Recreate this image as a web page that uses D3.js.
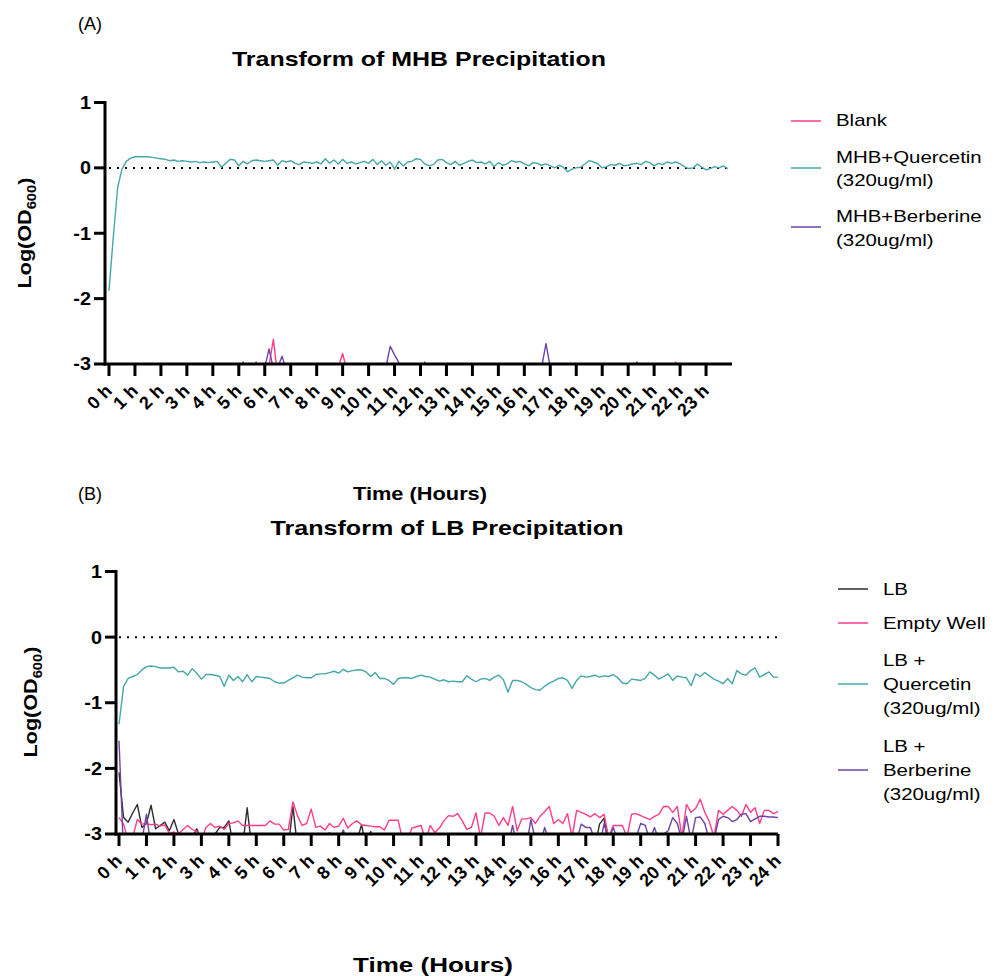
<!DOCTYPE html>
<html>
<head>
<meta charset="utf-8">
<script src="https://cdn.jsdelivr.net/npm/d3@7"></script>
<style>
  body { margin: 0; background: #fff; }
  svg text { font-family: "Liberation Sans", Arial, sans-serif; fill: #000; }
</style>
</head>
<body>
<svg id="chart" width="995" height="976"></svg>
<script>
// readings every 10 min, log10(OD600); values under -3 fall below the axis
const stepHours = 10 / 60;

const mhbTicks = ["0 h","1 h","2 h","3 h","4 h","5 h","6 h","7 h","8 h","9 h","10 h","11 h",
  "12 h","13 h","14 h","15 h","16 h","17 h","18 h","19 h","20 h","21 h","22 h","23 h"];
const lbTicks = ["0 h","1 h","2 h","3 h","4 h","5 h","6 h","7 h","8 h","9 h","10 h","11 h",
  "12 h","13 h","14 h","15 h","16 h","17 h","18 h","19 h","20 h","21 h","22 h","23 h","24 h"];
const yTicks = [1, 0, -1, -2, -3];

// (A) MHB
const mhbBlank = [
  -3.2,-3.2,-3.2,-3.2,-3.2,-3.2, -3.2,-3.2,-3.2,-3.2,-3.2,-3.2,
  -3.2,-3.2,-3.2,-3.2,-3.2,-3.2, -3.2,-3.2,-3.2,-3.2,-3.2,-3.2,
  -3.2,-3.2,-3.2,-3.2,-3.2,-3.2, -3.2,-3.2,-3.2,-3.2,-3.2,-3.2,
  -3.2,-3.02,-2.62,-3.2,-3.2,-3.2, -3.2,-3.2,-3.2,-3.2,-3.2,-3.2,
  -3.2,-3.2,-3.2,-3.2,-3.2,-3.05, -2.84,-3.1,-3.2,-3.2,-3.2,-3.2,
  -3.2,-3.2,-3.2,-3.2,-3.2,-3.2, -3.2,-3.2,-3.2,-3.2,-3.2,-3.2,
  -3.2,-3.2,-3.2,-3.2,-3.2,-3.2, -3.2,-3.2,-3.2,-3.2,-3.2,-3.2,
  -3.2,-3.2,-3.2,-3.2,-3.2,-3.2, -3.2,-3.2,-3.2,-3.2,-3.2,-3.2,
  -3.2,-3.2,-3.2,-3.2,-3.2,-3.2, -3.2,-3.2,-3.2,-3.2,-3.2,-3.2,
  -3.2,-3.2,-3.2,-3.2,-3.2,-3.2, -3.2,-3.2,-3.2,-3.2,-3.2,-3.2,
  -3.2,-3.2,-3.2,-3.2,-3.2,-3.2, -3.2,-3.2,-3.2,-3.2,-3.1,-2.97,
  -3.1,-3.2,-3.2,-3.2,-3.2,-3.2, -3.2,-3.2,-3.2,-3.2,-3.2,-3.2
];
const mhbQuercetin = [
  -1.88,-1.05,-0.30,-0.02,0.10,0.15, 0.17,0.17,0.17,0.17,0.16,0.15,
  0.14,0.13,0.11,0.12,0.10,0.11, 0.10,0.09,0.10,0.08,0.09,0.08,
  0.09,0.10,0.01,0.07,0.13,0.12, 0.03,0.10,0.06,0.11,0.12,0.11,
  0.10,0.11,0.12,0.04,0.11,0.09, 0.11,0.07,0.05,0.09,0.08,0.07,
  0.09,0.06,0.14,0.07,0.12,0.06, 0.13,0.07,0.09,0.06,0.08,0.10,
  0.07,0.13,0.05,0.11,0.04,0.09, -0.02,0.10,0.03,0.09,0.10,0.14,
  0.13,0.06,0.03,0.05,0.12,0.13, 0.08,0.05,0.10,0.04,0.07,0.10,
  0.12,0.08,0.09,0.06,0.10,0.02, 0.08,0.04,0.06,0.11,0.09,0.10,
  0.06,0.03,0.08,0.07,0.04,0.06, 0.03,0.00,0.04,0.01,-0.06,-0.02,
  0.00,0.01,0.06,0.11,0.09,0.06, 0.00,0.02,0.05,0.04,0.07,0.03,
  0.04,0.06,0.07,0.05,0.10,0.08, 0.03,0.07,0.05,0.09,0.07,0.09,
  0.06,0.02,-0.01,0.00,0.06,0.01, -0.03,-0.01,0.02,0.00,0.03,-0.01
];
const mhbBerberine = [
  -3.2,-3.2,-3.2,-3.2,-3.2,-3.2, -3.2,-3.2,-3.2,-3.2,-3.2,-3.2,
  -3.2,-3.2,-3.2,-3.2,-3.2,-3.2, -3.2,-3.2,-3.2,-3.2,-3.2,-3.2,
  -3.2,-3.2,-3.2,-3.2,-3.2,-3.2, -3.2,-2.97,-3.2,-3.2,-2.97,-3.2,
  -3.05,-2.77,-3.08,-3.05,-2.88,-3.1, -3.2,-3.2,-3.2,-3.2,-3.2,-3.2,
  -3.2,-3.2,-3.2,-3.2,-3.2,-3.2, -3.2,-3.2,-3.2,-3.2,-3.2,-3.2,
  -3.2,-3.2,-3.2,-3.2,-3.05,-2.73, -2.86,-2.98,-3.2,-3.2,-3.2,-3.2,
  -3.2,-2.97,-3.2,-3.2,-3.2,-3.2, -3.2,-3.2,-3.2,-3.2,-3.2,-3.2,
  -3.2,-3.2,-3.2,-3.2,-3.2,-3.2, -3.2,-3.2,-3.2,-3.2,-3.2,-3.2,
  -3.2,-3.2,-3.2,-3.2,-3.05,-2.69, -3.05,-3.2,-3.2,-3.2,-3.2,-3.2,
  -3.2,-3.2,-3.2,-3.2,-3.2,-3.2, -3.2,-3.2,-3.2,-3.2,-3.2,-3.2,
  -3.2,-3.2,-2.97,-3.2,-3.2,-3.2, -3.2,-3.2,-3.2,-3.2,-3.2,-3.2,
  -3.2,-3.2,-3.2,-3.2,-3.2,-3.2, -3.2,-3.2,-3.2,-3.2,-3.2,-3.2
];

// (B) LB
const lbBroth = [
  -2.06,-2.75,-2.82,-2.68,-2.55,-2.90, -2.84,-2.56,-2.92,-2.87,-2.82,-2.95,
  -2.78,-3.00,-3.15,-3.10,-3.05,-2.92, -3.10,-3.20,-3.20,-3.00,-2.90,-2.90,
  -2.80,-3.20,-3.20,-3.20,-2.60,-3.20, -3.2,-3.2,-3.2,-3.2,-3.2,-3.2,
  -3.20,-3.20,-2.58,-3.20,-3.20,-3.20, -3.20,-3.20,-3.20,-3.10,-2.98,-3.20,
  -3.10,-2.97,-3.20,-3.20,-3.10,-2.86, -3.20,-2.96,-3.20,-3.20,-3.20,-3.20,
  -3.2,-3.2,-3.2,-3.2,-3.2,-3.2, -3.2,-3.2,-3.2,-3.2,-3.2,-3.2,
  -3.2,-3.2,-3.2,-3.2,-3.2,-3.2, -3.2,-3.2,-3.2,-3.2,-3.2,-3.2,
  -3.2,-3.2,-3.2,-3.2,-3.2,-3.2, -3.2,-3.2,-3.2,-3.2,-3.2,-3.2,
  -3.2,-3.2,-3.2,-3.2,-3.2,-3.2, -3.20,-3.20,-3.20,-2.85,-2.76,-3.20,
  -3.2,-3.2,-3.2,-3.2,-3.2,-3.2, -3.2,-3.2,-3.2,-3.2,-3.2,-3.2,
  -3.2,-3.2,-3.2,-3.2,-3.2,-3.2, -3.2,-3.2,-3.2,-3.2,-3.2,-3.2,
  -3.2,-3.2,-3.2,-3.2,-3.2,-3.2, -3.2,-3.2,-3.2,-3.2,-3.2,-3.2,
  -3.2
];
const lbEmptyWell = [
  -2.75,-2.85,-3.10,-3.05,-2.78,-2.85, -2.84,-2.86,-2.85,-2.88,-2.86,-2.99,
  -2.97,-3.00,-2.93,-2.87,-2.93,-2.96, -3.10,-2.90,-2.84,-2.90,-2.88,-2.93,
  -2.84,-2.83,-2.80,-2.87,-2.87,-2.87, -2.87,-2.87,-2.87,-2.80,-2.85,-2.85,
  -2.94,-2.93,-2.51,-2.72,-2.87,-2.84, -2.62,-2.90,-2.88,-2.94,-2.84,-2.90,
  -2.88,-2.76,-2.91,-2.84,-2.80,-2.86, -2.87,-2.88,-2.89,-2.89,-2.94,-2.79,
  -2.79,-2.79,-3.10,-3.10,-2.91,-2.89, -2.87,-3.10,-2.87,-2.98,-2.91,-2.80,
  -2.72,-2.73,-2.69,-2.80,-2.93,-2.90, -2.68,-3.05,-2.68,-2.68,-2.73,-2.87,
  -2.75,-2.87,-2.58,-2.95,-2.77,-2.77, -2.75,-2.84,-2.73,-2.66,-2.58,-2.84,
  -2.78,-2.84,-2.69,-3.05,-2.64,-2.67, -2.70,-2.74,-2.69,-2.75,-2.70,-3.05,
  -2.87,-2.87,-2.87,-3.05,-2.70,-2.69, -2.72,-2.75,-2.78,-2.73,-2.70,-2.58,
  -2.58,-2.67,-2.58,-3.05,-2.55,-2.67, -2.61,-2.47,-2.67,-2.81,-3.05,-2.64,
  -2.70,-2.64,-2.58,-2.64,-2.73,-2.55, -2.67,-2.60,-2.84,-2.64,-2.64,-2.69,
  -2.66
];
const lbQuercetin = [
  -1.33,-0.75,-0.63,-0.60,-0.57,-0.50, -0.45,-0.44,-0.45,-0.47,-0.47,-0.47,
  -0.46,-0.53,-0.52,-0.58,-0.48,-0.55, -0.64,-0.57,-0.57,-0.58,-0.60,-0.75,
  -0.58,-0.66,-0.60,-0.68,-0.57,-0.68, -0.60,-0.61,-0.62,-0.63,-0.68,-0.70,
  -0.70,-0.66,-0.62,-0.58,-0.61,-0.62, -0.62,-0.57,-0.56,-0.56,-0.54,-0.52,
  -0.55,-0.49,-0.53,-0.51,-0.50,-0.50, -0.53,-0.60,-0.54,-0.63,-0.63,-0.66,
  -0.72,-0.63,-0.62,-0.62,-0.63,-0.60, -0.58,-0.60,-0.61,-0.64,-0.67,-0.65,
  -0.68,-0.67,-0.68,-0.68,-0.59,-0.64, -0.68,-0.64,-0.63,-0.66,-0.61,-0.58,
  -0.65,-0.84,-0.66,-0.66,-0.68,-0.72, -0.77,-0.80,-0.81,-0.75,-0.70,-0.67,
  -0.63,-0.62,-0.66,-0.78,-0.66,-0.59, -0.61,-0.60,-0.58,-0.61,-0.59,-0.60,
  -0.57,-0.62,-0.70,-0.71,-0.64,-0.65, -0.66,-0.63,-0.53,-0.58,-0.64,-0.60,
  -0.56,-0.66,-0.59,-0.61,-0.62,-0.74, -0.56,-0.60,-0.54,-0.59,-0.64,-0.67,
  -0.71,-0.63,-0.71,-0.51,-0.56,-0.58, -0.51,-0.47,-0.61,-0.57,-0.53,-0.61,
  -0.61
];
const lbBerberine = [
  -1.58,-3.30,-3.20,-3.20,-3.20,-3.10, -2.70,-3.20,-3.20,-3.20,-3.20,-3.20,
  -3.2,-3.2,-3.2,-3.2,-3.2,-3.2, -3.2,-3.2,-3.2,-3.2,-3.2,-3.2,
  -3.2,-3.2,-3.2,-3.2,-3.2,-3.2, -3.2,-3.2,-3.2,-3.2,-3.2,-3.2,
  -3.2,-3.2,-3.2,-3.2,-3.2,-3.2, -3.2,-3.2,-3.2,-3.2,-3.2,-3.2,
  -3.10,-2.94,-3.10,-3.20,-3.20,-3.20, -3.2,-3.2,-3.2,-3.2,-3.2,-3.2,
  -3.2,-3.2,-3.2,-3.2,-3.2,-3.2, -3.2,-3.2,-3.2,-3.2,-3.2,-3.2,
  -3.2,-3.2,-3.2,-3.2,-3.2,-3.2, -3.2,-3.2,-3.2,-3.2,-3.2,-3.2,
  -3.20,-3.20,-2.87,-3.20,-3.20,-3.20, -2.78,-3.10,-3.20,-2.90,-3.10,-3.20,
  -3.20,-3.20,-3.20,-3.20,-3.10,-2.85, -2.90,-2.90,-3.10,-3.20,-2.84,-3.10,
  -2.90,-3.10,-3.20,-3.20,-3.20,-3.05, -2.84,-2.87,-3.10,-2.90,-3.10,-3.00,
  -2.95,-2.75,-2.84,-3.10,-2.73,-3.10, -2.75,-2.74,-2.84,-3.10,-3.10,-2.78,
  -2.73,-2.75,-2.81,-2.78,-2.70,-2.69, -2.81,-2.77,-2.73,-2.73,-2.74,-2.74,
  -2.75
];

const pink = "#ff3d8b", teal = "#45a7a7", purple = "#6d44a6", dark = "#2e2e2e";

const svg = d3.select("#chart");
svg.append("rect").attr("width", 995).attr("height", 976).attr("fill", "#fff");

// the source figure is a little wider than its fonts, so stretch text sideways
function stretch(sel, k) {
  sel.each(function () {
    const w = this.getComputedTextLength();
    d3.select(this).attr("textLength", w * k).attr("lengthAdjust", "spacingAndGlyphs");
  });
  return sel;
}

function drawPanel(p) {
  const g = svg.append("g");
  const x = d3.scaleLinear().domain([0, 24]).range([p.x0, p.x1]);
  const y = d3.scaleLinear().domain([-3, 1]).range([p.yBottom, p.yTop]);

  const clipId = "clip-" + p.tag.replace(/\W/g, "");
  g.append("clipPath").attr("id", clipId)
    .append("rect")
    .attr("x", x(0) - 2).attr("y", y(1) - 6)
    .attr("width", x(24) - x(0) + 4).attr("height", y(-3) - y(1) + 6);

  // dotted zero line
  g.append("line")
    .attr("x1", x(0)).attr("x2", x(24))
    .attr("y1", y(0)).attr("y2", y(0))
    .attr("stroke", "#000").attr("stroke-width", 2)
    .attr("stroke-dasharray", "2,6");

  const line = d3.line()
    .x((d, i) => x(i * stepHours))
    .y((d) => y(d));

  p.series.forEach((s) => {
    g.append("path")
      .attr("d", line(s.values))
      .attr("fill", "none")
      .attr("stroke", s.color)
      .attr("stroke-width", 1.4)
      .attr("stroke-linejoin", "round")
      .attr("clip-path", `url(#${clipId})`);
  });

  // y axis
  g.append("line")
    .attr("x1", p.axisX).attr("x2", p.axisX)
    .attr("y1", y(1) - 1.5).attr("y2", y(-3) + 1.5)
    .attr("stroke", "#000").attr("stroke-width", 3);
  yTicks.forEach((v) => {
    g.append("line")
      .attr("x1", p.axisX - 11).attr("x2", p.axisX)
      .attr("y1", y(v)).attr("y2", y(v))
      .attr("stroke", "#000").attr("stroke-width", 3);
    stretch(g.append("text")
      .attr("x", p.axisX - 14).attr("y", y(v)).attr("dy", "0.36em")
      .attr("text-anchor", "end")
      .attr("font-size", 18).attr("font-weight", "bold")
      .text(v), 1.1);
  });

  // x axis
  g.append("line")
    .attr("x1", p.axisX - 1.5).attr("x2", x(24))
    .attr("y1", y(-3)).attr("y2", y(-3))
    .attr("stroke", "#000").attr("stroke-width", 3);
  p.ticks.forEach((label, i) => {
    const tx = x(i);
    g.append("line")
      .attr("x1", tx).attr("x2", tx)
      .attr("y1", y(-3)).attr("y2", y(-3) + 12)
      .attr("stroke", "#000").attr("stroke-width", 3);
    g.append("text")
      .attr("transform", `translate(${tx + 4},${y(-3) + 28}) rotate(-45)`)
      .attr("text-anchor", "end")
      .attr("font-size", 18).attr("font-weight", "bold")
      .text(label);
  });

  // titles
  svg.append("text").attr("x", 78).attr("y", p.tagY)
    .attr("font-size", 18).text(p.tag);
  svg.append("text").attr("x", p.titleX).attr("y", p.titleY)
    .attr("text-anchor", "middle").attr("font-size", 21).attr("font-weight", "bold")
    .attr("textLength", p.titleW).attr("lengthAdjust", "spacingAndGlyphs")
    .text(p.title);
  svg.append("text").attr("x", p.xTitleX).attr("y", p.xTitleY)
    .attr("text-anchor", "middle").attr("font-size", p.xTitleSize).attr("font-weight", "bold")
    .attr("textLength", p.xTitleW).attr("lengthAdjust", "spacingAndGlyphs")
    .text("Time (Hours)");

  const yt = svg.append("text")
    .attr("transform", `translate(${p.yTitleX},${p.yTitleY}) rotate(-90)`)
    .attr("text-anchor", "middle")
    .attr("font-size", 19).attr("font-weight", "bold")
    .attr("textLength", 111).attr("lengthAdjust", "spacingAndGlyphs");
  yt.append("tspan").text("Log(OD");
  yt.append("tspan").attr("font-size", 13).attr("dy", 5).text("600");
  yt.append("tspan").attr("dy", -5).text(")");

  // legend
  p.legend.forEach((item) => {
    svg.append("line")
      .attr("x1", p.legendX).attr("x2", p.legendX + 30)
      .attr("y1", item.lineY).attr("y2", item.lineY)
      .attr("stroke", item.color).attr("stroke-width", 2).attr("opacity", 0.75);
    item.lines.forEach((txt, j) => {
      stretch(svg.append("text")
        .attr("x", p.legendX + 45).attr("y", item.textY + j * item.gap)
        .attr("font-size", 17)
        .text(txt), 1.2);
    });
  });
}

drawPanel({
  tag: "(A)", tagY: 30,
  title: "Transform of MHB Precipitation", titleX: 419, titleY: 66, titleW: 374,
  xTitleX: 420, xTitleY: 500, xTitleW: 134, xTitleSize: 18,
  yTitleX: 31, yTitleY: 233,
  axisX: 105, x0: 109, x1: 732, yTop: 102.5, yBottom: 364,
  ticks: mhbTicks,
  series: [
    { values: mhbBlank, color: pink },
    { values: mhbQuercetin, color: teal },
    { values: mhbBerberine, color: purple }
  ],
  legendX: 791,
  legend: [
    { color: pink, lineY: 121, textY: 126, gap: 23, lines: ["Blank"] },
    { color: teal, lineY: 168, textY: 163, gap: 23, lines: ["MHB+Quercetin", "(320ug/ml)"] },
    { color: purple, lineY: 227, textY: 222, gap: 24, lines: ["MHB+Berberine", "(320ug/ml)"] }
  ]
});

drawPanel({
  tag: "(B)", tagY: 500,
  title: "Transform of LB Precipitation", titleX: 447, titleY: 535, titleW: 353,
  xTitleX: 433, xTitleY: 972, xTitleW: 160, xTitleSize: 20,
  yTitleX: 37, yTitleY: 702,
  axisX: 116, x0: 119, x1: 778, yTop: 571.5, yBottom: 834,
  ticks: lbTicks,
  series: [
    { values: lbBroth, color: dark },
    { values: lbEmptyWell, color: pink },
    { values: lbQuercetin, color: teal },
    { values: lbBerberine, color: purple }
  ],
  legendX: 838,
  legend: [
    { color: dark, lineY: 589, textY: 595, gap: 24, lines: ["LB"] },
    { color: pink, lineY: 623, textY: 629, gap: 24, lines: ["Empty Well"] },
    { color: teal, lineY: 684, textY: 666, gap: 24, lines: ["LB +", "Quercetin", "(320ug/ml)"] },
    { color: purple, lineY: 770, textY: 752, gap: 24, lines: ["LB +", "Berberine", "(320ug/ml)"] }
  ]
});
</script>
</body>
</html>
